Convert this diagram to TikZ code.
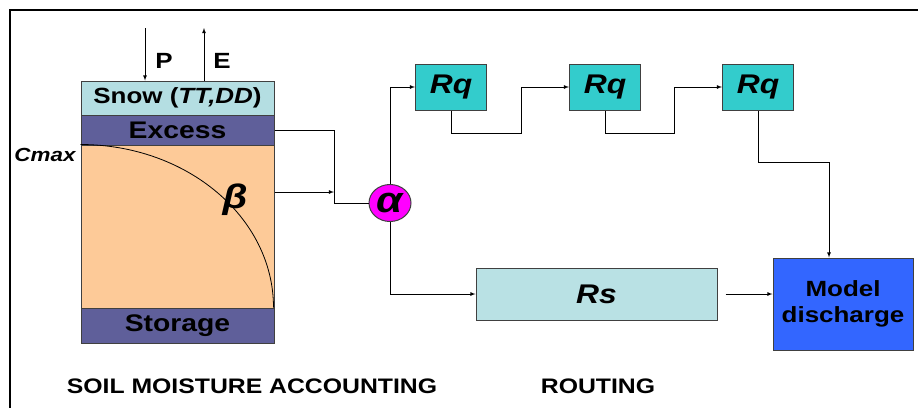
\documentclass[tikz,border=0pt]{standalone}
\usepackage{fontspec}
\setmainfont{Liberation Sans}[FakeStretch=1.18]
\usepackage{tikz}
\usetikzlibrary{calc,shapes,arrows}

\definecolor{snowblue}{HTML}{B4DEE2}
\definecolor{layerblue}{HTML}{5F5F9A}
\definecolor{soilorange}{HTML}{FDCA98}
\definecolor{rqcyan}{HTML}{33CCCC}
\definecolor{rslight}{HTML}{B9E1E4}
\definecolor{qblue}{HTML}{3366FF}
\definecolor{alphapink}{HTML}{FF00FF}
\definecolor{boxline}{HTML}{404040}

\begin{document}
\begin{tikzpicture}[x=1pt,y=-1pt,
    box/.style={draw=boxline,line width=1pt,inner sep=0pt,align=center,font=\bfseries\fontsize{24}{24}\selectfont},
    line/.style={line width=0.8pt}]
\useasboundingbox (0,0) rectangle (918,408);
\draw[line width=1.2pt] (918,10) -- (10,10) -- (10,408);

% soil moisture column
\node[box,fill=snowblue,minimum width=193pt,minimum height=34pt,font=\bfseries\fontsize{22}{22}\selectfont] (snow) at (177.5,98) {Snow (\textit{TT,DD})};
\node[box,fill=layerblue,minimum width=193pt,minimum height=30pt] (excess) at (177.5,130) {Excess};
\node[box,fill=soilorange,minimum width=193pt,minimum height=163pt] (soil) at (177.5,226.5) {};
\node[box,fill=layerblue,minimum width=193pt,minimum height=35pt] (storage) at (177.5,325.5) {Storage};
\draw[line] (soil.north west) arc[start angle=-90,end angle=0,x radius=193,y radius=163];
\node[font=\bfseries\itshape\fontsize{34}{34}\selectfont] (beta) at (235,200) {β};
\node[font=\bfseries\itshape\fontsize{19}{19}\selectfont] (cmax) at (45,155) {Cmax};

% precipitation and evaporation
\coordinate (ptop) at (145,28);
\coordinate (etop) at (204,28);
\draw[line,-latex] (ptop) -- (ptop |- snow.north);
\draw[line,-latex] (etop |- snow.north) -- (etop);
\node[font=\bfseries\fontsize{22}{22}\selectfont] (p) at (164,61) {P};
\node[font=\bfseries\fontsize{22}{22}\selectfont] (e) at (222,61) {E};

% routing
\node[ellipse,draw=boxline,line width=1pt,fill=alphapink,minimum width=42pt,minimum height=37pt,inner sep=0pt,font=\bfseries\itshape\fontsize{36}{36}\selectfont] (alpha) at (390,203) {α};
\foreach \i/\x in {1/451,2/605,3/758}
    \node[box,fill=rqcyan,minimum width=71pt,minimum height=46pt,font=\bfseries\itshape\fontsize{27}{27}\selectfont] (rq\i) at (\x,87) {Rq};
\node[box,fill=rslight,minimum width=241pt,minimum height=52pt,font=\bfseries\itshape\fontsize{27}{27}\selectfont] (rs) at (596.5,294) {\raisebox{-5pt}{Rs}};
\node[box,fill=qblue,minimum width=140pt,minimum height=92pt,font=\bfseries\fontsize{22}{26}\selectfont] (model) at (843,304) {Model\\discharge};

\coordinate (j) at (334,203);
\coordinate (sout) at ([yshift=34.5pt]soil.east);
\draw[line] (excess.east) -| (j) -- (alpha.west);
\draw[line,-latex] (sout) -- (j |- sout);
\draw[line,-latex] (alpha.north) |- (rq1.west);
\foreach \a/\b in {1/2,2/3}
    \draw[line,-latex] (rq\a.south) -- ++(0,23) -| ([xshift=-48pt]rq\b.west) -- (rq\b.west);
\draw[line,-latex] (rq3.south) -- ++(0,52) -| ([xshift=-14pt]model.north);
\draw[line,-latex] (alpha.south) |- (rs.west);
\draw[line,-latex] ([xshift=8pt]rs.east) -- (rs.east -| model.west);

\node[font=\bfseries\fontsize{21}{21}\selectfont] (sma) at (252,386) {SOIL MOISTURE ACCOUNTING};
\node[font=\bfseries\fontsize{21}{21}\selectfont] (routing) at (598,386) {ROUTING};
\end{tikzpicture}
\end{document}
